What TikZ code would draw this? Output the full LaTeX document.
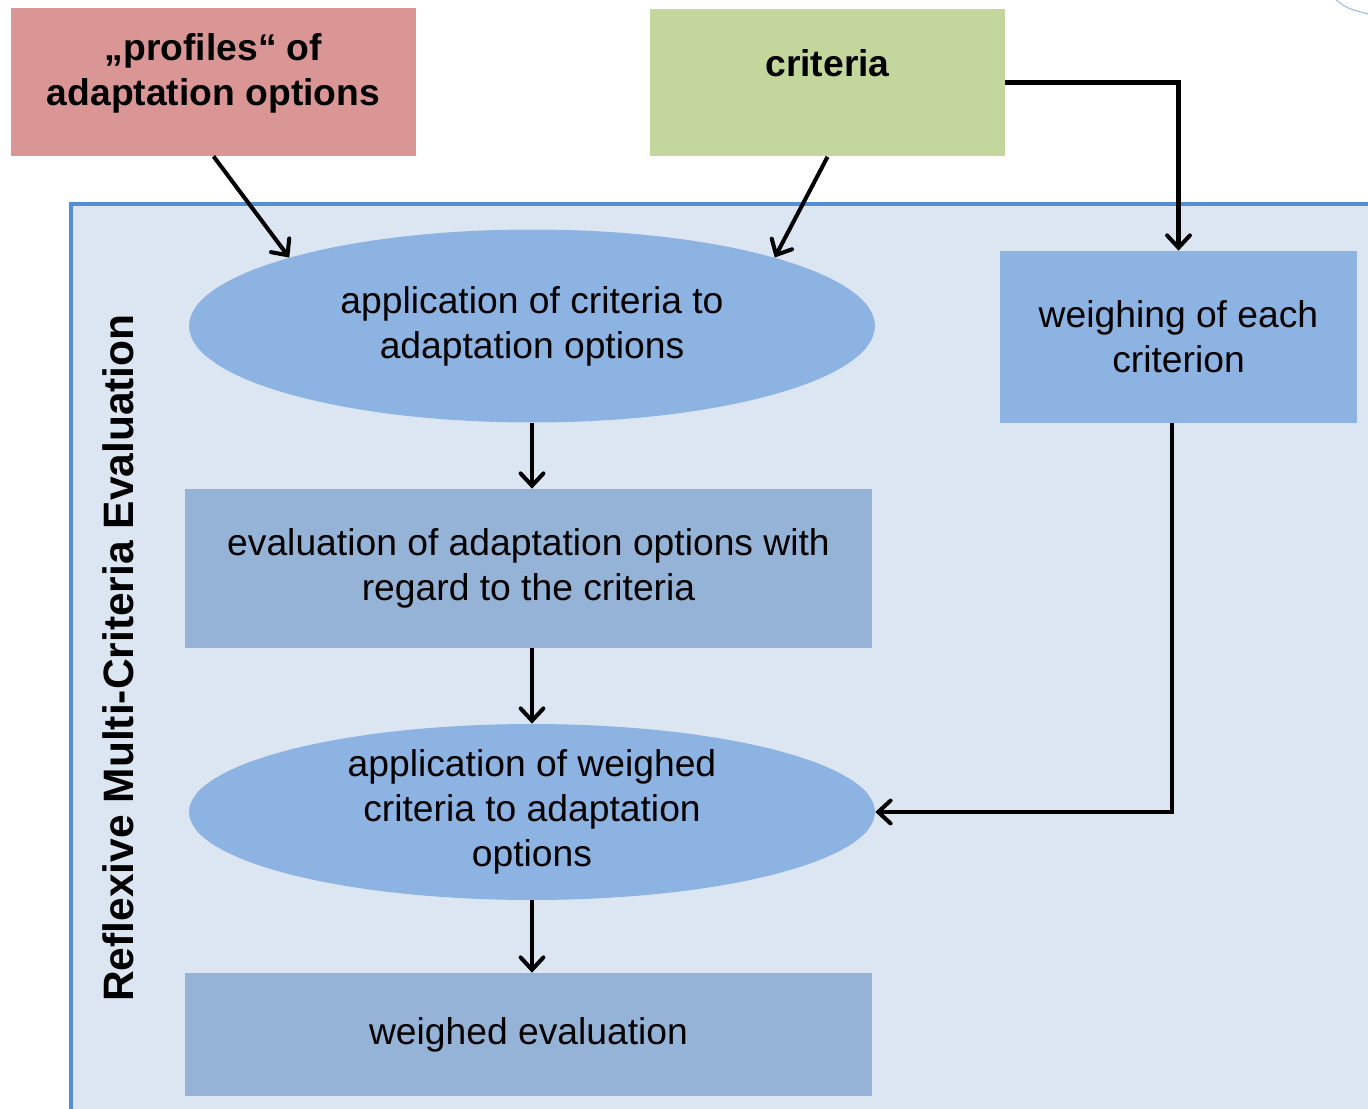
\documentclass[tikz,border=0pt]{standalone}
\usepackage{fontspec}
\setmainfont{Liberation Sans}
\usepackage{xcolor}
\usepackage{tikz}
\usetikzlibrary{arrows.meta, shapes.geometric}

\definecolor{profilered}{HTML}{DA9694}
\definecolor{criteriagreen}{HTML}{C3D69B}
\definecolor{stepblue}{HTML}{8DB3E2}
\definecolor{evalblue}{HTML}{95B3D7}
\definecolor{framefill}{HTML}{DCE6F2}
\definecolor{frameline}{HTML}{558ED5}

\begin{document}
\begin{tikzpicture}[
		x=0.02cm, y=-0.02cm,
		every node/.style={font=\fontsize{21.2}{25.5}\selectfont, align=center, text=black},
		top box/.style={minimum width=#1, minimum height=2.96cm, inner sep=0pt},
		top text/.style={font=\fontsize{21.2}{25.5}\selectfont\bfseries},
		ellipse step/.style={ellipse, fill=stepblue, minimum width=13.72cm, minimum height=#1, inner sep=0pt},
		process box/.style={fill=evalblue, minimum width=13.74cm, minimum height=#1, inner sep=0pt},
		flow arrow/.style={-{Straight Barb[length=7pt, width=13pt, line cap=round]}, line width=2.3pt, black},
		frame label/.style={rotate=90, font=\fontsize{24.2}{28}\selectfont\bfseries}
		]

	\clip (0, 0) rectangle (1368, 1108);

	% Frame
	\draw[line width=2.4pt, frameline, fill=framefill] (71, 204) rectangle (1400, 1140);
	\node[frame label] (framelabel) at (118, 658) {Reflexive Multi-Criteria Evaluation};

	% faint arc, top right
	\draw[line width=0.6pt, frameline!60] (1334, -2) .. controls (1346, 8) .. (1368, 14);

	% Inputs
	\node[top box=8.1cm, fill=profilered] (profiles) at (213.5, 82) {};
	\node[top text] (profilestext) at (213.5, 73) {„profiles“ of\\adaptation options};
	\node[top box=7.1cm, fill=criteriagreen] (criteria) at (827.5, 82.5) {};
	\node[top text] (criteriatext) at (827.5, 63) {criteria};

	% Steps
	\node[ellipse step=3.86cm] (apply) at (532, 326) {application of criteria to\\adaptation options};
	\node[fill=stepblue, minimum width=7.14cm, minimum height=3.44cm, inner sep=0pt] (weigh) at (1178.5, 337) {weighing of each\\criterion};
	\node[process box=3.18cm] (evaluate) at (528.5, 568.5) {evaluation of adaptation options with\\regard to the criteria};
	\node[ellipse step=3.52cm] (applyweighed) at (532, 812) {application of weighed\\criteria to adaptation\\options};
	\node[process box=2.46cm] (result) at (528.5, 1034.5) {weighed evaluation};

	% Arrows
	\draw[flow arrow] (profiles.south) -- (apply.north west);
	\draw[flow arrow] (criteria.south) -- (apply.north east);
	\draw[flow arrow] (criteria.east) -| (weigh.north);
	\draw[flow arrow] (apply.south) -- (evaluate.north -| apply.south);
	\draw[flow arrow] (evaluate.south -| apply.south) -- (applyweighed.north);
	\draw[flow arrow] ([xshift=-0.13cm]weigh.south) |- (applyweighed.east);
	\draw[flow arrow] (applyweighed.south) -- (result.north -| applyweighed.south);

\end{tikzpicture}
\end{document}
